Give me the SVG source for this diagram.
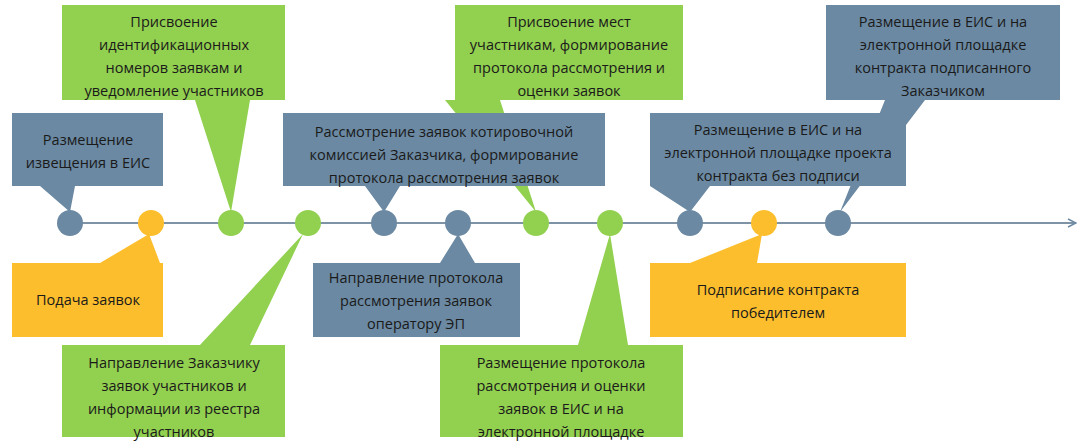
<svg xmlns="http://www.w3.org/2000/svg" width="1084" height="445" viewBox="0 0 1084 445">
<defs>
<style>
.b{fill:#6b89a2}.g{fill:#92d050}.o{fill:#fcbe2c}
text{font-family:"Open Sans","Liberation Sans",sans-serif;font-size:14.5px;fill:#1a1a1a;text-anchor:middle}
</style>
<marker id="ar" markerWidth="10" markerHeight="10" refX="9" refY="5" orient="auto" markerUnits="userSpaceOnUse"><path d="M1,1 L9,5 L1,9" fill="none" stroke="#6b89a2" stroke-width="1.5"/></marker>
</defs>
<rect width="1084" height="445" fill="#fff"/>
<g id="connectors"><line x1="70" y1="223" x2="1076" y2="223" stroke="#7e94a6" stroke-width="2" marker-end="url(#ar)"/></g>
<g id="n1"><path class="b" d="M12,113H163V186H75L70,212L40,186H12Z"/><text x="88" y="145">Размещение</text><text x="88" y="168">извещения в ЕИС</text></g>
<g id="n2"><path class="g" d="M62,5H285V100H250L231,212L195,100H62Z"/><text x="174" y="27">Присвоение</text><text x="174" y="50">идентификационных</text><text x="174" y="73">номеров заявкам и</text><text x="174" y="96">уведомление участников</text></g>
<g id="n7"><path class="g" d="M455,5H683V100H500L536,212L445,100H455Z"/><text x="569" y="27">Присвоение мест</text><text x="569" y="50">участникам, формирование</text><text x="569" y="73">протокола рассмотрения и</text><text x="569" y="96">оценки заявок</text></g>
<g id="n3"><path class="o" d="M12,263H100L149,234L160,263H163V337H12Z"/><text x="88" y="305">Подача заявок</text></g>
<g id="n4"><path class="g" d="M62,345H200L303,234L250,345H285V437H62Z"/><text x="174" y="368">Направление Заказчику</text><text x="174" y="391">заявок участников и</text><text x="174" y="414">информации из реестра</text><text x="174" y="437">участников</text></g>
<g id="n5"><path class="b" d="M283,113H605V186H400L384,212L365,186H283Z"/><text x="444" y="137">Рассмотрение заявок котировочной</text><text x="444" y="160">комиссией Заказчика, формирование</text><text x="444" y="183">протокола рассмотрения заявок</text></g>
<g id="n6"><path class="b" d="M313,263H440L458,234L475,263H520V337H313Z"/><text x="416" y="283">Направление протокола</text><text x="416" y="306">рассмотрения заявок</text><text x="416" y="329">оператору ЭП</text></g>
<g id="n8"><path class="g" d="M440,345H578L610,234L628,345H683V437H440Z"/><text x="561" y="368">Размещение протокола</text><text x="561" y="391">рассмотрения и оценки</text><text x="561" y="414">заявок в ЕИС и на</text><text x="561" y="437">электронной площадке</text></g>
<g id="n10"><path class="b" d="M826,5H1060V100H925L840,212L885,100H826Z"/><text x="943" y="27">Размещение в ЕИС и на</text><text x="943" y="50">электронной площадке</text><text x="943" y="73">контракта подписанного</text><text x="943" y="96">Заказчиком</text></g>
<g id="n9"><path class="b" d="M650,113H906V186H710L690,212L650,186Z"/><text x="778" y="135">Размещение в ЕИС и на</text><text x="778" y="158">электронной площадке проекта</text><text x="778" y="181">контракта без подписи</text></g>
<g id="n11"><path class="o" d="M650,263H690L762,234L757,263H906V337H650Z"/><text x="778" y="295">Подписание контракта</text><text x="778" y="318">победителем</text></g>
<g id="dots">
<circle class="b" cx="70" cy="223" r="13"/><circle class="o" cx="151" cy="223" r="13"/><circle class="g" cx="231" cy="223" r="13"/><circle class="g" cx="308" cy="223" r="13"/><circle class="b" cx="384" cy="223" r="13"/><circle class="b" cx="458" cy="223" r="13"/><circle class="g" cx="536" cy="223" r="13"/><circle class="g" cx="610" cy="223" r="13"/><circle class="b" cx="690" cy="223" r="13"/><circle class="o" cx="764" cy="223" r="13"/><circle class="b" cx="838" cy="223" r="13"/>
</g>
</svg>
